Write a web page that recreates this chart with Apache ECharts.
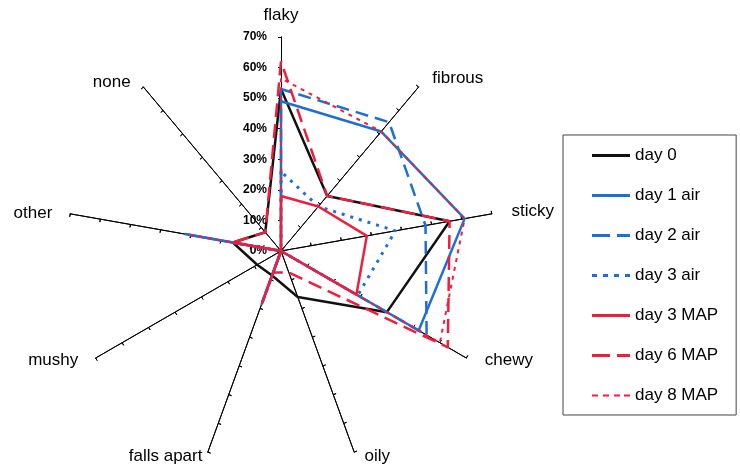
<!DOCTYPE html>
<html>
<head>
<meta charset="utf-8">
<title>texture radar</title>
<script src="https://cdn.jsdelivr.net/npm/echarts@6/dist/echarts.min.js"></script>
<style>
  html, body { margin: 0; padding: 0; background: #fff; }
  #chart { width: 740px; height: 467px; }
</style>
</head>
<body>
<div id="chart"></div>
<script type="text/javascript">
// axes, counter-clockwise from the top (echarts radar order)
var axisNames = ['flaky', 'none', 'other', 'mushy', 'falls apart', 'oily', 'chewy', 'sticky', 'fibrous'];
var axisMax = 70;

// % of panel, same order as axisNames
var day0    = [53,   8, 16, 9, 8.5, 16,  40,   56,   23.5];
var day1Air = [49,   0, 31, 0, 18.5, 0,  52,   61,   51];
var day2Air = [53,   0, 32, 0, 18.5, 0,  55,   48,   55];
var day3Air = [26,   0, 16, 0, 18,   0,  29,   38,   19];
var day3Map = [18,   0, 16, 0, 18,   0,  28.5, 28.5, 19];
var day6Map = [62,   8, 16, 0, 7.5, 7.5, 63,   56,   23.5];
var day8Map = [56.5, 0, 31, 0, 18,   0,  60,   61,   51];

var black = '#111111', blue = '#1f6fd1', red = '#ec1f3f';
var font = 'Liberation Sans, Arial, sans-serif';

var lines = [
  {name: 'day 0',     values: day0,    color: black, type: 'solid', width: 2.5, icon: 'path://M0,0H38V3H0Z'},
  {name: 'day 1 air', values: day1Air, color: blue,  type: 'solid', width: 2.5, icon: 'path://M0,0H38V3H0Z'},
  {name: 'day 2 air', values: day2Air, color: blue,  type: [13, 7], width: 2.5, icon: 'path://M0,0H18V3H0Z M25,0H38V3H25Z'},
  {name: 'day 3 air', values: day3Air, color: blue,  type: [3, 6],  width: 3,   icon: 'path://M0,0H5V3H0Z M11,0H16V3H11Z M22,0H27V3H22Z M33,0H38V3H33Z'},
  {name: 'day 3 MAP', values: day3Map, color: red,   type: 'solid', width: 2.5, icon: 'path://M0,0H38V3H0Z'},
  {name: 'day 6 MAP', values: day6Map, color: red,   type: [14, 7], width: 2.5, icon: 'path://M0,0H18V3H0Z M25,0H38V3H25Z'},
  {name: 'day 8 MAP', values: day8Map, color: red,   type: [4, 5],  width: 2,   icon: 'path://M0,0.5H6V2.5H0Z M11,0.5H17V2.5H11Z M22,0.5H28V2.5H22Z M32,0.5H38V2.5H32Z'}
];

// where each axis name sits: [gap, align, verticalAlign, padding]
var namePlace = {
  'flaky':       [13, 'center', 'bottom', 0],
  'none':        [6,  'right', 'middle', [0, 9, 0, 0]],
  'other':       [4,  'right', 'middle', [0, 14, 0, 0]],
  'mushy':       [4,  'right', 'middle', [0, 14, 0, 0]],
  'falls apart': [4,  'right', 'middle', [0, 4, 0, 0]],
  'oily':        [4,  'left',  'middle', [0, 0, 0, 9]],
  'chewy':       [4,  'left',  'middle', [0, 0, 0, 15]],
  'sticky':      [12, 'left',  'middle', [0, 0, 0, 8]],
  'fibrous':     [12, 'left',  'middle', [0, 0, 0, 6]]
};

var indicator = axisNames.map(function (n, i) {
  var p = namePlace[n];
  var ind = {
    name: n, min: 0, max: axisMax, nameGap: p[0],
    nameTextStyle: {align: p[1], verticalAlign: p[2], padding: p[3]}
  };
  if (i === 0) {
    // only the top axis carries the % labels
    ind.axisLabel = {show: true, formatter: '{value}%', fontWeight: 'bold', fontSize: 12,
      color: '#000', fontFamily: font, margin: 14};
  }
  return ind;
});

// second, bare copy of the axes so the ticks cross the lines
var tickIndicator = axisNames.map(function (n) {
  return {name: n, min: 0, max: axisMax};
});

var series = lines.map(function (l) {
  return {
    type: 'radar',
    radarIndex: 0,
    name: l.name,
    symbol: 'none',
    silent: true,
    itemStyle: {color: l.color},
    lineStyle: {color: l.color, width: l.width, type: l.type},
    data: [{name: l.name, value: l.values}]
  };
});

var chart = echarts.init(document.getElementById('chart'));
chart.setOption({
  backgroundColor: '#fff',
  animation: false,
  legend: {
    orient: 'vertical',
    left: 563,
    top: 135,
    padding: [12, 18, 11, 29],
    itemWidth: 38,
    itemHeight: 3,
    itemGap: 23,
    selectedMode: false,
    borderColor: '#444',
    borderWidth: 1,
    textStyle: {color: '#000', fontSize: 17, fontFamily: font},
    data: lines.map(function (l) { return {name: l.name, icon: l.icon}; })
  },
  radar: [{
    center: [281, 251],
    radius: 214,
    startAngle: 90,
    splitNumber: 7,
    shape: 'polygon',
    axisName: {color: '#000', fontSize: 17, fontFamily: font},
    axisLine: {lineStyle: {color: '#000', width: 1}},
    axisTick: {show: true, length: 3, lineStyle: {color: '#000', width: 1}},
    axisLabel: {show: false},
    splitLine: {show: false},
    splitArea: {show: false},
    indicator: indicator
  }, {
    center: [281, 251],
    radius: 214,
    startAngle: 90,
    splitNumber: 7,
    shape: 'polygon',
    axisName: {show: false},
    axisLine: {lineStyle: {color: '#000', width: 1}},
    axisTick: {show: true, inside: true, length: 3, lineStyle: {color: '#000', width: 1}},
    axisLabel: {show: false},
    splitLine: {show: false},
    splitArea: {show: false},
    indicator: tickIndicator
  }],
  series: series
});
</script>
</body>
</html>
